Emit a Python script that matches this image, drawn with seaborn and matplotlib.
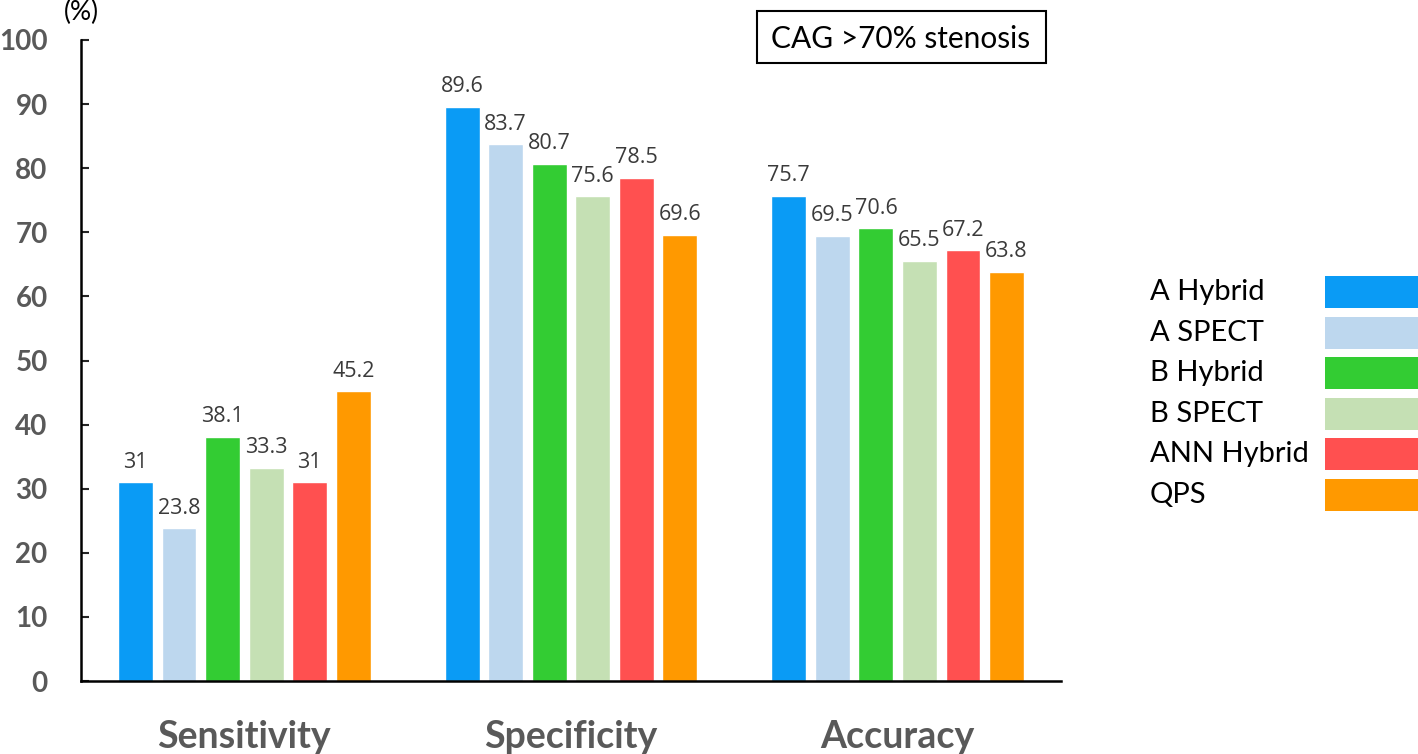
import pandas as pd
import seaborn as sns
import matplotlib.pyplot as plt
from matplotlib.patches import Rectangle

sns.set_theme(style='white')
plt.rcParams['font.family'] = ['Lato', 'DejaVu Sans']

metrics = ['Sensitivity', 'Specificity', 'Accuracy']
methods = ['A Hybrid', 'A SPECT', 'B Hybrid', 'B SPECT', 'ANN Hybrid', 'QPS']
colors = ['#0A9BF5', '#BDD7EE', '#33CC33', '#C5E0B4', '#FF5050', '#FF9900']

a_hybrid = [31, 89.6, 75.7]
a_spect = [23.8, 83.7, 69.5]
b_hybrid = [38.1, 80.7, 70.6]
b_spect = [33.3, 75.6, 65.5]
ann_hybrid = [31, 78.5, 67.2]
qps = [45.2, 69.6, 63.8]

values = [a_hybrid, a_spect, b_hybrid, b_spect, ann_hybrid, qps]
rows = []
for method, vals in zip(methods, values):
    for metric, v in zip(metrics, vals):
        rows.append({'metric': metric, 'method': method, 'value': v})
df = pd.DataFrame(rows)

W, H = 1418, 754
fig = plt.figure(figsize=(W / 100, H / 100), dpi=100)
ax = fig.add_axes([81 / W, 73 / H, 980 / W, 641 / H])

sns.barplot(data=df, x='metric', y='value', hue='method', order=metrics,
            hue_order=methods, palette=colors, width=0.8, gap=0.2,
            saturation=1, legend=False, ax=ax)

for cont, vals in zip(ax.containers, values):
    ax.bar_label(cont, labels=['{:g}'.format(v) for v in vals], padding=7,
                 fontsize=15.5, color='#3A3A3A', family=['Open Sans', 'DejaVu Sans'])

ax.set_xlim(-0.5, 2.5)
ax.set_ylim(0, 100)
ax.set_yticks(range(0, 101, 10))
ax.set_xlabel('')
ax.set_ylabel('')
sns.despine(ax=ax)
for side in ['left', 'bottom']:
    ax.spines[side].set_linewidth(1.8)
    ax.spines[side].set_color('black')

ax.tick_params(axis='y', direction='in', length=6, width=1.5, pad=24,
               labelsize=20, labelcolor='#595959', left=True)
ax.tick_params(axis='x', length=0, pad=28, labelsize=27, labelcolor='#595959')
for lab in ax.get_yticklabels() + ax.get_xticklabels():
    lab.set_fontweight('bold')

fig.text(81 / W, 1 - 12 / H, '(%)', ha='center', va='center', fontsize=19, color='black')

fig.text(901 / W, 1 - 39 / H, 'CAG >70% stenosis', ha='center', va='center',
         fontsize=21.5, color='black')
fig.patches.append(Rectangle((757 / W, 1 - 63 / H), 289 / W, 52 / H, fill=False,
                             edgecolor='black', linewidth=1.5, transform=fig.transFigure))

# legend on the right, labels left, swatches running off the edge
for i, (method, c) in enumerate(zip(methods, colors)):
    top = 276 + i * 40.6
    fig.patches.append(Rectangle((1325 / W, 1 - (top + 32) / H), 110 / W, 32 / H,
                                 facecolor=c, edgecolor='none', transform=fig.transFigure))
    fig.text(1150 / W, 1 - (top + 16) / H, method, ha='left', va='center',
             fontsize=21, color='black')

fig.savefig('out.png', dpi=100)
